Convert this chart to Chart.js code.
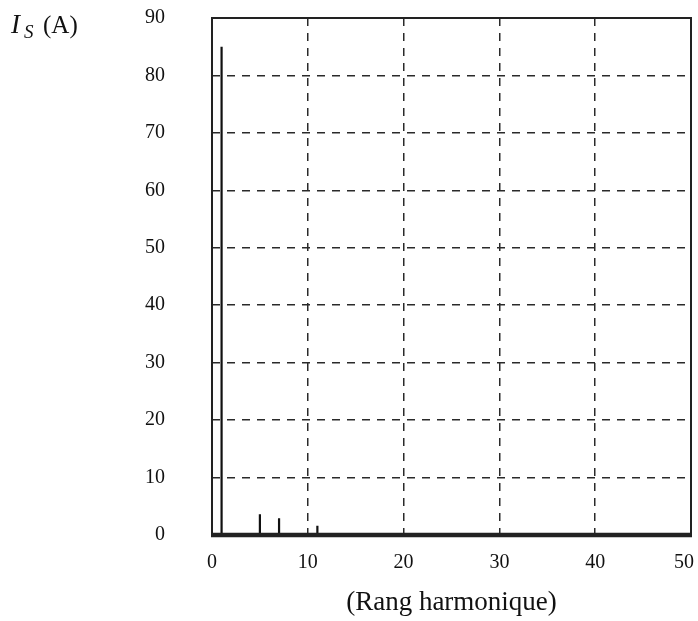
<!DOCTYPE html>
<html><head><meta charset="utf-8">
<script src="https://cdn.jsdelivr.net/npm/chart.js@4.4.1/dist/chart.umd.min.js"></script>
<style>html,body{margin:0;padding:0;background:#fff}#w{width:698px;height:621px}</style>
</head><body><div id="w"><canvas id="c"></canvas></div>
<script>
const harmonics = [1, 5, 7, 11];
const amplitudes = [85, 3.6, 2.9, 1.6];
const xTicks = [0, 10, 20, 30, 40, 50];
const yTicks = [0, 10, 20, 30, 40, 50, 60, 70, 80, 90];

const spikeData = [];
harmonics.forEach((h, i) => {
  spikeData.push({x: h, y: 0}, {x: h, y: amplitudes[i]}, {x: h, y: 0});
});

const frame = {
  id: 'frame',
  afterDraw(chart) {
    const {ctx, chartArea: a} = chart;
    ctx.save();
    ctx.strokeStyle = '#222';
    ctx.lineWidth = 2;
    ctx.beginPath();
    ctx.moveTo(a.left, a.bottom); ctx.lineTo(a.left, a.top);
    ctx.lineTo(a.right, a.top); ctx.lineTo(a.right, a.bottom);
    ctx.stroke();
    ctx.lineWidth = 4.5;
    ctx.beginPath();
    ctx.moveTo(a.left - 1, a.bottom); ctx.lineTo(a.right + 1, a.bottom);
    ctx.stroke();
    ctx.fillStyle = '#111';
    ctx.textBaseline = 'alphabetic';
    ctx.font = 'italic 27px "Liberation Serif"';
    ctx.fillText('I', 11, 33);
    ctx.font = 'italic 19px "Liberation Serif"';
    ctx.fillText('S', 24, 38);
    ctx.font = '25px "Liberation Serif"';
    ctx.fillText('(A)', 43, 33);
    ctx.restore();
  }
};

function zeroPad(s) { s.paddingTop = 0; s.paddingBottom = 0; s.paddingLeft = 0; s.paddingRight = 0; }

new Chart(document.getElementById('c'), {
  type: 'line',
  data: { datasets: [{ data: spikeData, borderColor: '#111', borderWidth: 2.2, pointRadius: 0, tension: 0, fill: false }] },
  options: {
    responsive: true, maintainAspectRatio: false, animation: false,
    layout: { padding: { left: 0, right: 7, top: 18, bottom: 0 } },
    plugins: { legend: { display: false }, tooltip: { enabled: false } },
    scales: {
      x: {
        type: 'linear', min: 0, max: 50,
        afterBuildTicks(s) { s.ticks = xTicks.map(v => ({value: v})); },
        afterFit(s) { s.height = 86; zeroPad(s); },
        border: { display: false, dash: [8, 7] },
        grid: { color: '#2a2a2a', lineWidth: 1.5, drawTicks: false },
        ticks: {
          padding: 16, color: '#111', font: { family: 'Liberation Serif', size: 20 },
          callback: (v) => v === 50 ? '50\u2002\u2009' : String(v)
        },
        title: { display: true, text: '(Rang harmonique)', color: '#111', font: { family: 'Liberation Serif', size: 27 }, padding: { top: 8, bottom: 2 } }
      },
      y: {
        min: 0, max: 90,
        afterBuildTicks(s) { s.ticks = yTicks.map(v => ({value: v})); },
        afterFit(s) { s.width = 212; zeroPad(s); },
        border: { display: false, dash: [8, 7] },
        grid: { color: '#2a2a2a', lineWidth: 1.5, drawTicks: false },
        ticks: { padding: 47, color: '#111', font: { family: 'Liberation Serif', size: 20 } }
      }
    }
  },
  plugins: [frame]
});
</script></body></html>
